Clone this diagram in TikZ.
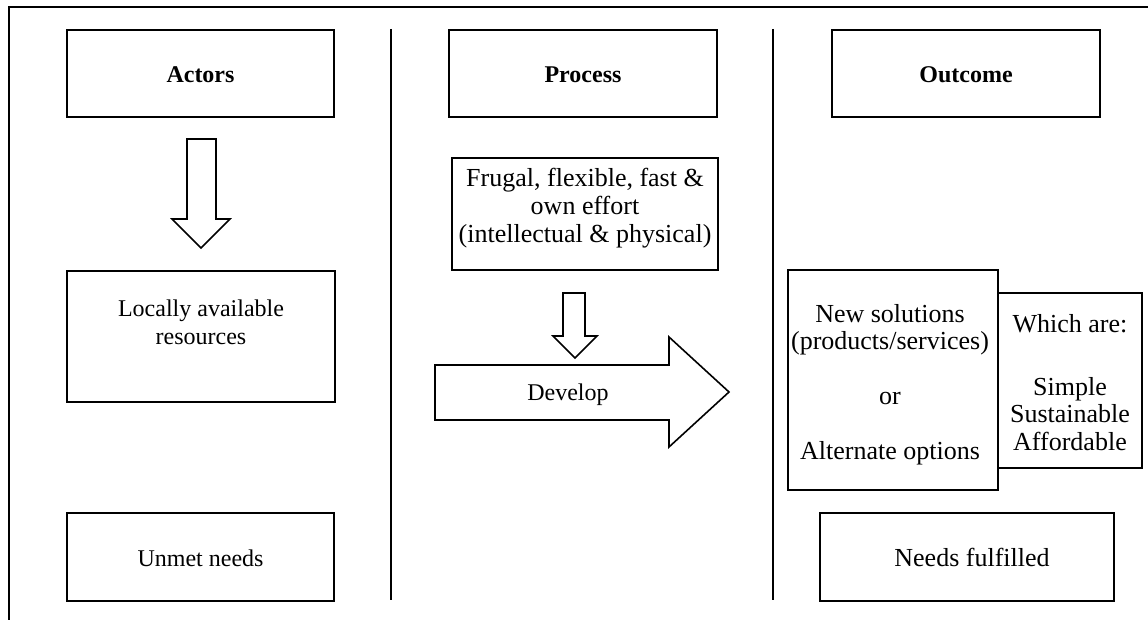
\documentclass[tikz,border=0pt]{standalone}
\usepackage{fontspec}
\setmainfont{Liberation Serif}
\usetikzlibrary{fit}
\begin{document}
\begin{tikzpicture}[x=1pt,y=-1pt,
  every node/.style={font=\fontsize{24}{27.5}\selectfont},
  frame/.style={line width=2.2pt},
  header/.style={draw, line width=2.2pt, inner sep=0pt},
  headertext/.style={inner sep=0pt, anchor=base, font=\fontsize{24}{27.5}\selectfont\bfseries},
  box/.style={draw, line width=1.6pt, inner sep=0pt},
  txt/.style={inner sep=0pt, align=center},
  bigtxt/.style={txt, font=\fontsize{26}{27.5}\selectfont},
  divider/.style={line width=2pt},
  blockarrow/.style={draw, line width=1.6pt, line join=miter, fill=white}]

\useasboundingbox (0,0) rectangle (1148,620);
\fill[white] (0,0) rectangle (1148,620);

% outer frame (top and left edges)
\coordinate (frameBL) at (9,620);
\coordinate (frameTL) at (9,7);
\coordinate (frameTR) at (1148,7);
\draw[frame] (frameBL) -- (frameTL) -- (frameTR);

% column headers
\node[header, fit={(67,30) (334,117)}] (actors) {};
\node[headertext] (actorsText) at (actors.center |- 0,83) {Actors};
\node[header, fit={(449,30) (717,117)}] (process) {};
\node[headertext] (processText) at (process.center |- 0,83) {Process};
\node[header, fit={(832,30) (1100,117)}] (outcome) {};
\node[headertext] (outcomeText) at (outcome.center |- 0,83) {Outcome};

% column dividers
\coordinate (divAtop) at (391,29);
\coordinate (divAbot) at (391,600);
\coordinate (divBtop) at (773,29);
\coordinate (divBbot) at (773,600);
\draw[divider] (divAtop) -- (divAbot);
\draw[divider] (divBtop) -- (divBbot);

% actors column
\draw[blockarrow] (187,139) -- (216,139) -- (216,219) -- (230,219) -- (201,248)
  -- (172,219) -- (187,219) -- cycle;
\node[box, fit={(67,271) (335,402)}] (resources) {};
\node[txt, anchor=north] (resourcesText) at (201,300) {Locally available\\resources};
\node[box, fit={(67,513) (334,601)}] (unmet) {};
\node[txt, anchor=base] (unmetText) at (unmet.center |- 0,566) {Unmet needs};

% process column
\node[box, fit={(452,158) (718,270)}] (effort) {};
\node[bigtxt, anchor=north] (effortText) at (585,168)
  {Frugal, flexible, fast \&\\[0.5pt]own effort\\[0.5pt](intellectual \& physical)};
\draw[blockarrow] (563,293) -- (585,293) -- (585,336) -- (597,336) -- (575,358)
  -- (553,336) -- (563,336) -- cycle;
\draw[blockarrow] (435,365) -- (669,365) -- (669,337) -- (729,392) -- (669,447)
  -- (669,420) -- (435,420) -- cycle;
\node[txt, anchor=base] (develop) at (568,400) {Develop};

% outcome column
\node[box, fit={(788,270) (998,490)}] (solutions) {};
\node[bigtxt, anchor=north] (solutionsText) at (890,304)
  {New solutions\\(products/services)\\[27.5pt]or\\[27.5pt]Alternate options};
\node[box, fit={(998,293) (1142,468)}] (qualities) {};
\node[bigtxt, anchor=north] (qualitiesText) at (1070,314)
  {Which are:\\[35.5pt]Simple\\Sustainable\\Affordable};
\node[box, fit={(820,513) (1114,601)}] (fulfilled) {};
\node[bigtxt, anchor=base] (fulfilledText) at (972,566) {Needs fulfilled};
\end{tikzpicture}
\end{document}
